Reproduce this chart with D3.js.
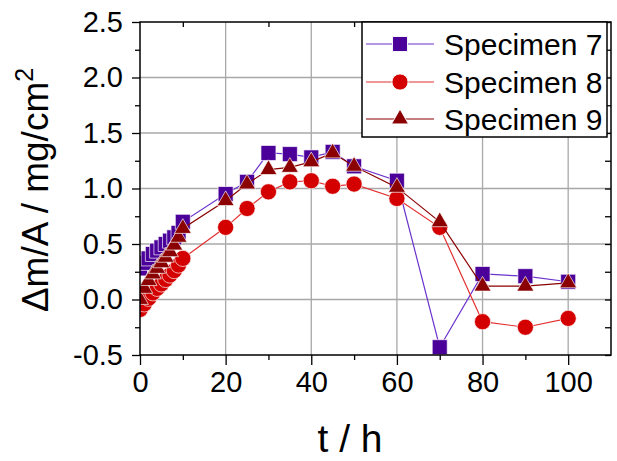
<!DOCTYPE html>
<html>
<head>
<meta charset="utf-8">
<script src="https://cdn.jsdelivr.net/npm/d3@7"></script>
<style>
  html, body { margin: 0; padding: 0; background: #fff; }
  svg { display: block; font-family: "Liberation Sans", Arial, sans-serif; }
</style>
</head>
<body>
<svg id="chart" width="617" height="461"></svg>
<script>
// Exposure time in hours
const hours = [0, 1, 2, 3, 4, 5, 6, 7, 8, 9, 10, 20, 25, 30, 35, 40, 45, 50, 60, 70, 80, 90, 100];

// Specific mass change, mg/cm²
const specimen7 = [0.28, 0.33, 0.37, 0.41, 0.44, 0.47, 0.50, 0.53, 0.56, 0.60, 0.70,
                   0.95, 1.06, 1.32, 1.31, 1.28, 1.33, 1.20, 1.07, -0.43, 0.23, 0.21, 0.16];
const specimen8 = [-0.09, -0.04, 0.01, 0.06, 0.10, 0.14, 0.18, 0.22, 0.26, 0.31, 0.37,
                   0.65, 0.82, 0.97, 1.06, 1.07, 1.02, 1.04, 0.91, 0.65, -0.20, -0.25, -0.17];
const specimen9 = [0.00, 0.10, 0.17, 0.23, 0.28, 0.33, 0.38, 0.43, 0.49, 0.56, 0.64,
                   0.89, 1.04, 1.17, 1.19, 1.24, 1.32, 1.20, 1.01, 0.70, 0.12, 0.12, 0.15];

const seriesNames = ["Specimen 7", "Specimen 8", "Specimen 9"];

const xTicks = [0, 20, 40, 60, 80, 100];
const xMinorTicks = [10, 30, 50, 70, 90];
const yTicks = [-0.5, 0.0, 0.5, 1.0, 1.5, 2.0, 2.5];
const yMinorTicks = [-0.25, 0.25, 0.75, 1.25, 1.75, 2.25];

const xTitle = "t / h";

const series = [
  { name: seriesNames[0], values: specimen7, symbol: d3.symbolSquare, size: 225, fill: "#4a0099", line: "#6b33cc" },
  { name: seriesNames[1], values: specimen8, symbol: d3.symbolCircle, size: 205, fill: "#d40000", line: "#e23030" },
  { name: seriesNames[2], values: specimen9, symbol: d3.symbolTriangle, size: 125, fill: "#8b0000", line: "#8b0000" }
];

const svg = d3.select("#chart");
const plot = { left: 140, right: 611, top: 22, bottom: 355 };

const x = d3.scaleLinear().domain([0, 110]).range([plot.left, plot.right]);
const y = d3.scaleLinear().domain([-0.5, 2.5]).range([plot.bottom, plot.top]);

// grid
const grid = svg.append("g").attr("stroke", "#a8a8a8").attr("stroke-width", 1.3);
grid.selectAll("line.gx").data(xTicks.filter(d => d > 0)).join("line")
  .attr("x1", d => x(d)).attr("x2", d => x(d))
  .attr("y1", plot.top).attr("y2", plot.bottom);
grid.selectAll("line.gy").data(yTicks.filter(d => d > -0.5 && d < 2.5)).join("line")
  .attr("x1", plot.left).attr("x2", plot.right)
  .attr("y1", d => y(d)).attr("y2", d => y(d));

// data
svg.append("defs").append("clipPath").attr("id", "plotClip")
  .append("rect")
  .attr("x", plot.left).attr("y", plot.top)
  .attr("width", plot.right - plot.left).attr("height", plot.bottom - plot.top);

const dataLayer = svg.append("g").attr("clip-path", "url(#plotClip)");
const lineGen = d3.line().x(d => x(d.t)).y(d => y(d.v));

series.forEach(s => {
  const pts = hours.map((t, i) => ({ t, v: s.values[i] }));
  const g = dataLayer.append("g");
  g.append("path").datum(pts)
    .attr("d", lineGen)
    .attr("fill", "none")
    .attr("stroke", s.line)
    .attr("stroke-width", 1.2);
  g.selectAll("path.m").data(pts).join("path")
    .attr("class", "m")
    .attr("d", d3.symbol().type(s.symbol).size(s.size))
    .attr("transform", d => `translate(${x(d.t)},${y(d.v)})`)
    .attr("fill", s.fill)
    .attr("stroke", "#ffffff")
    .attr("stroke-opacity", 0.75)
    .attr("stroke-width", 0.9);
});

// axes
const tickFont = "29px";
const fmt = d => d.toFixed(1);

svg.append("g").attr("transform", `translate(0,${plot.bottom})`)
  .call(d3.axisBottom(x).tickValues(xTicks).tickSize(10).tickPadding(6).tickFormat(d3.format("d")));
svg.append("g").attr("transform", `translate(0,${plot.bottom})`)
  .call(d3.axisBottom(x).tickValues(xMinorTicks).tickSize(5).tickFormat(""));

svg.append("g").attr("transform", `translate(${plot.left},0)`)
  .call(d3.axisLeft(y).tickValues(yTicks).tickSize(8).tickPadding(9).tickFormat(fmt));
svg.append("g").attr("transform", `translate(${plot.left},0)`)
  .call(d3.axisLeft(y).tickValues(yMinorTicks).tickSize(5).tickFormat(""));

// inward ticks on top and right
svg.append("g").attr("transform", `translate(0,${plot.top})`)
  .call(d3.axisBottom(x).tickValues(xMinorTicks).tickSize(5).tickFormat(""));
svg.append("g").attr("transform", `translate(${plot.right},0)`)
  .call(d3.axisLeft(y).tickValues(yMinorTicks.concat(yTicks)).tickSize(6).tickFormat(""));

svg.selectAll(".domain").remove();
svg.selectAll(".tick line").attr("stroke", "#000").attr("stroke-width", 1.3);
svg.selectAll(".tick text").attr("font-size", tickFont).attr("fill", "#000")
  .attr("font-family", "'Liberation Sans', Arial, sans-serif");

// frame
svg.append("rect")
  .attr("x", plot.left).attr("y", plot.top)
  .attr("width", plot.right - plot.left).attr("height", plot.bottom - plot.top)
  .attr("fill", "none").attr("stroke", "#000").attr("stroke-width", 1.5);

// axis titles
svg.append("text")
  .attr("x", 350).attr("y", 452)
  .attr("text-anchor", "middle")
  .attr("font-size", "39px")
  .text(xTitle);

const yt = svg.append("text")
  .attr("transform", "translate(48,190) rotate(-90)")
  .attr("text-anchor", "middle")
  .attr("font-size", "37px");
yt.append("tspan").text("\u0394m/A / mg/cm");
yt.append("tspan").attr("dy", -15).attr("font-size", "25px").text("2");

// legend
const legend = svg.append("g");
legend.append("rect")
  .attr("x", 362).attr("y", 22).attr("width", 245).attr("height", 115)
  .attr("fill", "#fff").attr("stroke", "#000").attr("stroke-width", 1.5);
const rowY = [44, 82, 119];
series.forEach((s, i) => {
  const row = legend.append("g").attr("transform", `translate(0,${rowY[i]})`);
  row.append("line").attr("x1", 366).attr("x2", 434).attr("y1", 0).attr("y2", 0)
    .attr("stroke", s.line).attr("stroke-width", 1.2);
  row.append("path")
    .attr("d", d3.symbol().type(s.symbol).size(s.size)())
    .attr("transform", "translate(400,0)")
    .attr("fill", s.fill).attr("stroke", "#fff").attr("stroke-width", 0.9);
  row.append("text")
    .attr("x", 444).attr("y", 0).attr("dy", "0.35em")
    .attr("font-size", "30px")
    .text(s.name);
});
</script>
</body>
</html>
